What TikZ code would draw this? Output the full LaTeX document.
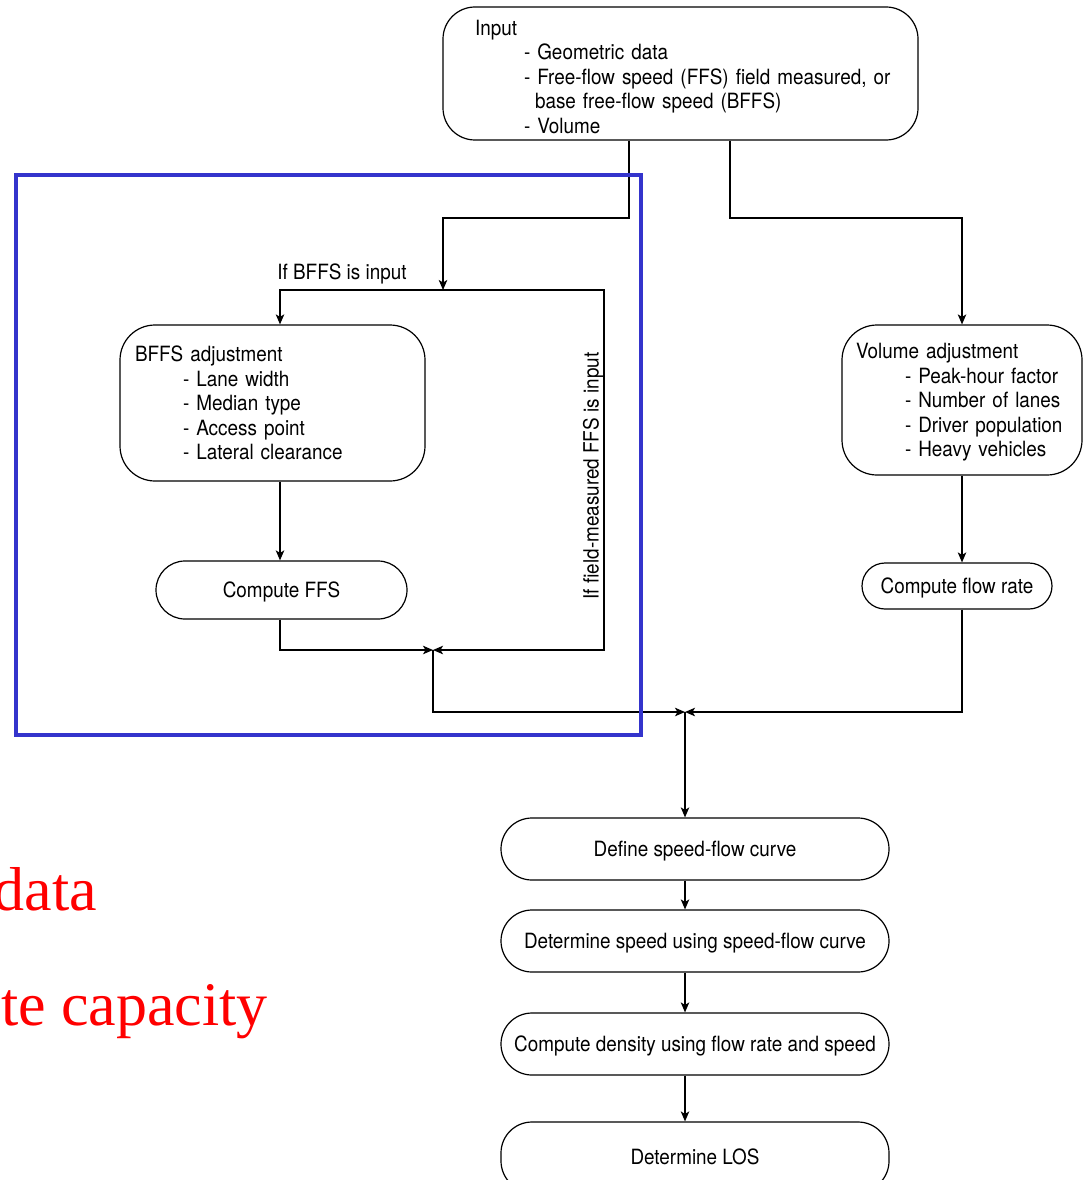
\documentclass[tikz,border=0pt]{standalone}
\usepackage{fontspec}
\setmainfont[FakeStretch=0.9]{TeX Gyre Heros}
\newfontfamily\redfont{Liberation Serif}
\usetikzlibrary{arrows.meta}
\definecolor{frameblue}{RGB}{52,52,204}
\begin{document}
\begin{tikzpicture}[x=1pt,y=-1pt,
  font=\fontsize{21}{24.5}\selectfont,
  flowbox/.style={draw,line width=1.2pt,rounded corners=#1,inner sep=0pt},
  flowbox/.default=30pt,
  oneline/.style={text height=15pt,text depth=0pt},
  conn/.style={line width=1.3pt,-{Stealth[length=10pt,width=8.5pt,inset=2.5pt]}},
  redtext/.style={anchor=base east,text=red,inner sep=0pt,font=\redfont\fontsize{62}{62}\selectfont}
]
\useasboundingbox (0,0) rectangle (1083,1180);
\clip (0,0) rectangle (1083,1180);

% boxes
\node[flowbox=32pt,minimum width=475pt,minimum height=133pt,text width=431pt,align=left] (inp) at (680.5,73.5)
 {\rule{0pt}{22pt}\hspace*{10pt}Input\\
  \hspace*{59pt}- Geometric data\\
  \hspace*{59pt}- Free-flow speed (FFS) field measured, or\\
  \hspace*{70pt}base free-flow speed (BFFS)\\
  \hspace*{59pt}- Volume};

\node[flowbox=35pt,minimum width=305pt,minimum height=156pt,text width=275pt,align=left] (bffs) at (272.5,403)
 {BFFS adjustment\\
  \hspace*{48pt}- Lane width\\
  \hspace*{48pt}- Median type\\
  \hspace*{48pt}- Access point\\
  \hspace*{48pt}- Lateral clearance};

\node[flowbox=35pt,minimum width=240pt,minimum height=150pt,text width=220pt,align=left] (vol) at (962,400)
 {\rule{0pt}{20pt}\hspace*{4pt}Volume adjustment\\
  \hspace*{53pt}- Peak-hour factor\\
  \hspace*{53pt}- Number of lanes\\
  \hspace*{53pt}- Driver population\\
  \hspace*{53pt}- Heavy vehicles};

\node[flowbox=29pt,oneline,minimum width=251pt,minimum height=58pt] (cffs) at (281.5,590) {Compute FFS};
\node[flowbox=23pt,oneline,minimum width=190pt,minimum height=46pt] (cfr) at (957,586) {Compute flow rate};

\node[flowbox=31pt,oneline,minimum width=388pt,minimum height=62pt] (def) at (695,849) {Define speed-flow curve};
\node[flowbox=31pt,oneline,minimum width=388pt,minimum height=62pt] (dsp) at (695,941) {Determine speed using speed-flow curve};
\node[flowbox=31pt,oneline,minimum width=388pt,minimum height=62pt] (cden) at (695,1044) {Compute density using flow rate and speed};
\node[flowbox=31pt,oneline,minimum width=388pt,minimum height=70pt] (los) at (695,1157) {Determine LOS};

% labels
\node[oneline] (lb1) at (342,272) {If BFFS is input};
\node[oneline,rotate=90] (lb2) at (591,476) {If field-measured FFS is input};

% routing points
\coordinate (c1) at (629,218);
\coordinate (j1) at (443,218);
\coordinate (s1) at (443,290);
\coordinate (bl) at (280,290);
\coordinate (br) at (604,290);
\coordinate (m1) at (433,650);
\coordinate (m2) at (685,712);
\coordinate (c2) at (730,218);
\coordinate (j2) at (962,218);

% connectors
\draw[conn] (inp.south -| c1) |- (j1) -- (s1);
\draw[conn] (s1) -- (bl) -- (bffs.north -| bl);
\draw[conn] (s1) -- (br) |- (m1);
\draw[conn] (bffs.south -| bl) -- (cffs.north -| bl);
\draw[conn] (cffs.south -| bl) |- (m1);
\draw[conn] (m1) |- (m2);
\draw[conn] (inp.south -| c2) |- (j2) -- (vol.north);
\draw[conn] (vol.south) -- (cfr.north -| vol.south);
\draw[conn] (cfr.south -| vol.south) |- (m2);
\draw[conn] (m2) -- (def.north -| m2);
\draw[conn] (def.south -| m2) -- (dsp.north -| m2);
\draw[conn] (dsp.south -| m2) -- (cden.north -| m2);
\draw[conn] (cden.south -| m2) -- (los.north -| m2);

% blue frame
\node[draw=frameblue,line width=4pt,minimum width=625pt,minimum height=560pt,inner sep=0pt] (frame) at (328.5,455) {};

% red text
\node[redtext] (rt1) at (97,910) {data};
\node[redtext] (rt2) at (268,1025) {te capacity};
\end{tikzpicture}
\end{document}
